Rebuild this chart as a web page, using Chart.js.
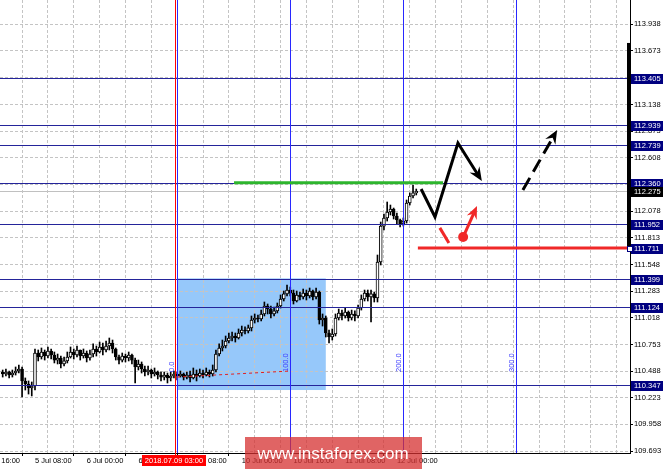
<!DOCTYPE html>
<html>
<head>
<meta charset="utf-8">
<script src="https://cdn.jsdelivr.net/npm/chart.js@4.4.0/dist/chart.umd.min.js"></script>
<style>
html, body { margin: 0; padding: 0; background: #fff; }
</style>
</head>
<body>
<canvas id="grafico" width="665" height="469"></canvas>
<script>
// velas H1 (hora 0 = 5 Jul 08:00)
const firstHour = -10;
const firstOpen = 110.479;
const closes = [
  110.459, 110.479, 110.449, 110.469, 110.489, 110.509, 110.390, 110.360, 110.320, 110.340,
  110.668, 110.628, 110.678, 110.638, 110.688, 110.648, 110.598, 110.618, 110.559, 110.589,
  110.628, 110.678, 110.648, 110.698, 110.638, 110.668, 110.618, 110.658, 110.708, 110.678,
  110.728, 110.698, 110.738, 110.767, 110.708, 110.628, 110.598, 110.638, 110.618, 110.648,
  110.598, 110.529, 110.559, 110.509, 110.479, 110.499, 110.459, 110.479, 110.449, 110.429,
  110.449, 110.420, 110.439, 110.459, 110.439, 110.459, 110.429, 110.449, 110.420, 110.459,
  110.439, 110.469, 110.449, 110.479, 110.459, 110.499, 110.658, 110.718, 110.738, 110.787,
  110.817, 110.837, 110.817, 110.867, 110.897, 110.887, 110.917, 110.996, 111.016, 111.006,
  111.056, 111.135, 111.105, 111.056, 111.086, 111.135, 111.205, 111.255, 111.294, 111.264,
  111.185, 111.245, 111.225, 111.264, 111.235, 111.284, 111.225, 111.274, 110.996, 111.016,
  110.867, 110.827, 110.857, 111.016, 111.066, 111.036, 111.076, 111.016, 111.056, 111.036,
  111.115, 111.205, 111.264, 111.225, 111.255, 111.215, 111.573, 111.930, 112.010, 112.070,
  112.099, 112.030, 111.990, 111.950, 111.980, 112.159, 112.229, 112.259, 112.275
];
const highs = [
  110.499, 110.509, 110.489, 110.499, 110.529, 110.549, 110.529, 110.420, 110.390, 110.380,
  110.708, 110.698, 110.718, 110.698, 110.728, 110.708, 110.678, 110.658, 110.638, 110.628,
  110.678, 110.728, 110.708, 110.738, 110.698, 110.708, 110.688, 110.698, 110.758, 110.738,
  110.777, 110.767, 110.787, 110.817, 110.797, 110.718, 110.648, 110.668, 110.658, 110.678,
  110.658, 110.618, 110.598, 110.579, 110.539, 110.539, 110.509, 110.519, 110.489, 110.479,
  110.479, 110.469, 110.479, 110.489, 110.479, 110.489, 110.469, 110.479, 110.489, 110.519,
  110.499, 110.509, 110.499, 110.519, 110.499, 110.549, 110.698, 110.758, 110.797, 110.837,
  110.867, 110.877, 110.867, 110.907, 110.936, 110.927, 110.946, 111.036, 111.056, 111.046,
  111.095, 111.175, 111.155, 111.135, 111.125, 111.165, 111.245, 111.284, 111.344, 111.324,
  111.294, 111.284, 111.274, 111.304, 111.294, 111.314, 111.294, 111.314, 111.284, 111.056,
  111.036, 110.897, 110.907, 111.056, 111.105, 111.095, 111.115, 111.086, 111.095, 111.086,
  111.145, 111.245, 111.294, 111.294, 111.294, 111.274, 111.642, 111.970, 112.050, 112.169,
  112.139, 112.109, 112.060, 112.000, 112.010, 112.189, 112.259, 112.338, 112.298
];
const lows = [
  110.429, 110.439, 110.420, 110.429, 110.449, 110.469, 110.231, 110.300, 110.260, 110.241,
  110.300, 110.589, 110.608, 110.598, 110.618, 110.608, 110.569, 110.559, 110.519, 110.539,
  110.569, 110.618, 110.608, 110.628, 110.598, 110.618, 110.579, 110.598, 110.628, 110.638,
  110.668, 110.648, 110.678, 110.698, 110.668, 110.598, 110.559, 110.579, 110.579, 110.589,
  110.559, 110.370, 110.499, 110.469, 110.439, 110.449, 110.420, 110.439, 110.410, 110.390,
  110.400, 110.370, 110.390, 110.420, 110.400, 110.429, 110.400, 110.410, 110.380, 110.410,
  110.390, 110.429, 110.420, 110.439, 110.429, 110.439, 110.479, 110.638, 110.688, 110.718,
  110.767, 110.787, 110.777, 110.807, 110.837, 110.857, 110.867, 110.887, 110.966, 110.976,
  110.986, 111.036, 111.056, 111.016, 111.036, 111.066, 111.115, 111.185, 111.235, 111.235,
  111.155, 111.175, 111.195, 111.205, 111.195, 111.215, 111.195, 111.205, 110.956, 110.936,
  110.827, 110.767, 110.797, 110.837, 110.996, 110.996, 111.016, 110.986, 110.996, 110.986,
  111.016, 111.095, 111.185, 111.185, 110.976, 111.175, 111.175, 111.543, 111.891, 111.980,
  112.040, 112.000, 111.950, 111.921, 111.930, 111.960, 112.139, 112.209, 112.239
];

// eixos
const xMin = -10.83, xMax = 184.15;
const yMin = 109.674, yMax = 114.177;
const xTickHours = [-16, -8, 0, 8, 16, 24, 32, 40, 48, 56, 64, 72, 80, 88, 96, 104, 112, 120, 128, 136, 144, 152, 160, 168, 176, 184];
const xLabelHours = [-16, 0, 16, 32, 48, 64, 80, 96, 112];
const xLabelTexts = ['4 Jul 16:00', '5 Jul 08:00', '6 Jul 00:00', '6 Jul 16:00', '9 Jul 08:00', '10 Jul 00:00', '10 Jul 16:00', '11 Jul 08:00', '12 Jul 00:00'];
const yTicks = [109.693, 109.958, 110.223, 110.488, 110.753, 111.018, 111.283, 111.548, 111.813, 112.078, 112.343, 112.608, 112.873, 113.138, 113.405, 113.673, 113.938];

// niveis e objetos
const levelPrices = [113.405, 112.939, 112.739, 112.360, 111.952, 111.399, 111.124, 110.347];
const levelTexts = ['113.405', '112.939', '112.739', '112.360', '111.952', '111.399', '111.124', '110.347'];
const currentPrice = 112.275;
const redLevel = 111.711;
const redLevelStart = 118.5;
const greenHours = [61.6, 126.3];
const greenPrice = 112.360;
const crossHour = 43.3;
const crossText = '2018.07.09 03:00';
const fiboHours = [44, 79, 114, 149];
const fiboTexts = ['0.0', '100.0', '200.0', '300.0'];
const fiboTextPrice = 110.479;
const fiboBaseHours = [44, 79];
const fiboBasePrices = [110.429, 110.489];
const boxHours = [44, 90];
const boxPrices = [111.410, 110.300];
const zigzagHours = [119.5, 123.8, 130.9, 138.3];
const zigzagPrices = [112.298, 112.020, 112.755, 112.378];
const dashHours = [151, 161.6];
const dashPrices = [112.288, 112.885];
const redStrokeHours = [125.3, 128.1];
const redStrokePrices = [111.912, 111.761];
const redArrowHours = [132.5, 136.8];
const redArrowPrices = [111.821, 112.129];
const sideBarPrices = [113.750, 111.711];

const fonte = 'Liberation Sans, Arial, sans-serif';
const horas = closes.map((c, i) => firstHour + i);
const opens = closes.map((c, i) => i === 0 ? firstOpen : closes[i - 1]);

function seta(ctx, x1, y1, x2, y2, tam) {
    const ang = Math.atan2(y2 - y1, x2 - x1);
    ctx.beginPath();
    ctx.moveTo(x2, y2);
    ctx.lineTo(x2 - tam * Math.cos(ang - 0.4), y2 - tam * Math.sin(ang - 0.4));
    ctx.lineTo(x2 - tam * 0.6 * Math.cos(ang), y2 - tam * 0.6 * Math.sin(ang));
    ctx.lineTo(x2 - tam * Math.cos(ang + 0.4), y2 - tam * Math.sin(ang + 0.4));
    ctx.closePath();
    ctx.fill();
}

const desenhos = {
    id: 'desenhos',
    beforeDraw(chart) {
        const { ctx, chartArea: a, scales: { x, y } } = chart;
        ctx.save();
        // retangulo azul
        const rx1 = x.getPixelForValue(boxHours[0]), rx2 = x.getPixelForValue(boxHours[1]);
        const ry1 = y.getPixelForValue(boxPrices[0]), ry2 = y.getPixelForValue(boxPrices[1]);
        ctx.fillStyle = '#96c8fa';
        ctx.fillRect(rx1, ry1, rx2 - rx1, ry2 - ry1);
        // linha do preco atual
        const py = Math.round(y.getPixelForValue(currentPrice)) + 0.5;
        ctx.strokeStyle = '#c0c0c0';
        ctx.lineWidth = 1;
        ctx.beginPath();
        ctx.moveTo(a.left, py);
        ctx.lineTo(a.right, py);
        ctx.stroke();
        ctx.restore();
    },
    afterDatasetsDraw(chart) {
        const { ctx, chartArea: a, scales: { x, y } } = chart;
        ctx.save();
        ctx.lineWidth = 1;

        // linhas horizontais azuis
        ctx.strokeStyle = '#24249a';
        levelPrices.forEach(p => {
            const py = Math.round(y.getPixelForValue(p)) + 0.5;
            ctx.beginPath();
            ctx.moveTo(a.left, py);
            ctx.lineTo(a.right, py);
            ctx.stroke();
        });

        // fibo time zones
        ctx.strokeStyle = '#2828ff';
        fiboHours.forEach(h => {
            const px = Math.round(x.getPixelForValue(h)) + 0.5;
            ctx.beginPath();
            ctx.moveTo(px, a.top);
            ctx.lineTo(px, a.bottom);
            ctx.stroke();
        });
        ctx.fillStyle = '#3c3cff';
        ctx.font = '7.5px ' + fonte;
        ctx.textAlign = 'left';
        ctx.textBaseline = 'bottom';
        fiboHours.forEach((h, i) => {
            ctx.save();
            ctx.translate(x.getPixelForValue(h) - 1, y.getPixelForValue(fiboTextPrice));
            ctx.rotate(-Math.PI / 2);
            ctx.fillText(fiboTexts[i], 0, 0);
            ctx.restore();
        });
        ctx.strokeStyle = '#e02020';
        ctx.setLineDash([3, 3]);
        ctx.beginPath();
        ctx.moveTo(x.getPixelForValue(fiboBaseHours[0]), y.getPixelForValue(fiboBasePrices[0]));
        ctx.lineTo(x.getPixelForValue(fiboBaseHours[1]), y.getPixelForValue(fiboBasePrices[1]));
        ctx.stroke();
        ctx.setLineDash([]);

        // linha vermelha vertical (cursor)
        const cx = Math.round(x.getPixelForValue(crossHour)) + 0.5;
        ctx.strokeStyle = '#ff0000';
        ctx.beginPath();
        ctx.moveTo(cx, a.top);
        ctx.lineTo(cx, a.bottom + 3);
        ctx.stroke();

        // linha verde
        ctx.strokeStyle = '#2db52d';
        ctx.lineWidth = 3;
        const gy = y.getPixelForValue(greenPrice);
        ctx.beginPath();
        ctx.moveTo(x.getPixelForValue(greenHours[0]), gy);
        ctx.lineTo(x.getPixelForValue(greenHours[1]), gy);
        ctx.stroke();

        // linha vermelha horizontal
        ctx.strokeStyle = '#f02828';
        const ry = y.getPixelForValue(redLevel);
        ctx.beginPath();
        ctx.moveTo(x.getPixelForValue(redLevelStart), ry);
        ctx.lineTo(a.right, ry);
        ctx.stroke();

        // zigue-zague preto
        ctx.strokeStyle = '#000';
        ctx.fillStyle = '#000';
        ctx.lineWidth = 3;
        ctx.lineJoin = 'miter';
        const zx = zigzagHours.map(h => x.getPixelForValue(h));
        const zy = zigzagPrices.map(p => y.getPixelForValue(p));
        ctx.beginPath();
        ctx.moveTo(zx[0], zy[0]);
        for (let i = 1; i < zx.length - 1; i++) ctx.lineTo(zx[i], zy[i]);
        const n = zx.length - 1;
        const ang = Math.atan2(zy[n] - zy[n - 1], zx[n] - zx[n - 1]);
        ctx.lineTo(zx[n] - 8 * Math.cos(ang), zy[n] - 8 * Math.sin(ang));
        ctx.stroke();
        seta(ctx, zx[n - 1], zy[n - 1], zx[n], zy[n], 15);

        // seta tracejada
        const dx1 = x.getPixelForValue(dashHours[0]), dy1 = y.getPixelForValue(dashPrices[0]);
        const dx2 = x.getPixelForValue(dashHours[1]), dy2 = y.getPixelForValue(dashPrices[1]);
        const dAng = Math.atan2(dy2 - dy1, dx2 - dx1);
        ctx.setLineDash([14, 7]);
        ctx.beginPath();
        ctx.moveTo(dx1, dy1);
        ctx.lineTo(dx2 - 8 * Math.cos(dAng), dy2 - 8 * Math.sin(dAng));
        ctx.stroke();
        ctx.setLineDash([]);
        seta(ctx, dx1, dy1, dx2, dy2, 15);

        // marcas vermelhas
        ctx.strokeStyle = '#f02828';
        ctx.fillStyle = '#f02828';
        ctx.beginPath();
        ctx.moveTo(x.getPixelForValue(redStrokeHours[0]), y.getPixelForValue(redStrokePrices[0]));
        ctx.lineTo(x.getPixelForValue(redStrokeHours[1]), y.getPixelForValue(redStrokePrices[1]));
        ctx.stroke();
        const ax1 = x.getPixelForValue(redArrowHours[0]), ay1 = y.getPixelForValue(redArrowPrices[0]);
        const ax2 = x.getPixelForValue(redArrowHours[1]), ay2 = y.getPixelForValue(redArrowPrices[1]);
        const rAng = Math.atan2(ay2 - ay1, ax2 - ax1);
        ctx.beginPath();
        ctx.arc(ax1, ay1, 5, 0, Math.PI * 2);
        ctx.fill();
        ctx.beginPath();
        ctx.moveTo(ax1, ay1);
        ctx.lineTo(ax2 - 8 * Math.cos(rAng), ay2 - 8 * Math.sin(rAng));
        ctx.stroke();
        seta(ctx, ax1, ay1, ax2, ay2, 14);

        ctx.restore();
    },
    afterDraw(chart) {
        const { ctx, chartArea: a, scales: { x, y } } = chart;
        ctx.save();
        ctx.font = '7.5px ' + fonte;
        ctx.textBaseline = 'middle';
        ctx.textAlign = 'left';

        // barra preta lateral
        const sy1 = y.getPixelForValue(sideBarPrices[0]), sy2 = y.getPixelForValue(sideBarPrices[1]);
        ctx.fillStyle = '#000';
        ctx.fillRect(a.right - 3, sy1, 3, sy2 - sy1);

        // caixas dos niveis no eixo
        levelPrices.forEach((p, i) => {
            const py = Math.round(y.getPixelForValue(p));
            ctx.fillStyle = '#000080';
            ctx.fillRect(a.right + 1, py - 4, 32, 10);
            ctx.fillStyle = '#fff';
            ctx.fillText(levelTexts[i], a.right + 4, py + 1);
        });
        const cy = Math.round(y.getPixelForValue(currentPrice));
        ctx.fillStyle = '#000';
        ctx.fillRect(a.right + 1, cy - 4, 32, 10);
        ctx.fillStyle = '#fff';
        ctx.fillText(currentPrice.toFixed(3), a.right + 4, cy + 1);
        const ry = Math.round(y.getPixelForValue(redLevel));
        ctx.fillStyle = '#000080';
        ctx.fillRect(a.right + 1, ry - 4, 32, 10);
        ctx.fillStyle = '#fff';
        ctx.fillText(redLevel.toFixed(3), a.right + 4, ry + 1);
        ctx.fillStyle = '#fff';
        ctx.fillRect(a.right - 3, ry - 2, 5, 5);
        ctx.strokeStyle = '#000080';
        ctx.lineWidth = 1;
        ctx.strokeRect(a.right - 2.5, ry - 1.5, 5, 5);

        // rotulo vermelho do cursor
        const cx = Math.round(x.getPixelForValue(crossHour));
        ctx.fillStyle = '#ff0000';
        ctx.fillRect(cx - 33, a.bottom + 2, 64, 11);
        ctx.fillStyle = '#fff';
        ctx.textAlign = 'center';
        ctx.fillText(crossText, cx - 1, a.bottom + 8);

        // marca d'agua
        ctx.fillStyle = 'rgba(214, 48, 48, 0.75)';
        ctx.fillRect(245, 437, 177, 32);
        ctx.fillStyle = '#fff';
        ctx.font = '17px ' + fonte;
        ctx.textAlign = 'center';
        ctx.fillText('www.instaforex.com', 333, 454);
        ctx.restore();
    }
};

new Chart(document.getElementById('grafico'), {
    type: 'bar',
    data: {
        datasets: [
            {
                data: horas.map((h, i) => ({ x: h, y: [lows[i], highs[i]] })),
                backgroundColor: '#000',
                barThickness: 1,
                grouped: false,
                order: 2
            },
            {
                data: horas.map((h, i) => ({ x: h, y: [opens[i], closes[i]] })),
                backgroundColor: ctx => closes[ctx.dataIndex] >= opens[ctx.dataIndex] ? '#fff' : '#000',
                borderColor: '#000',
                borderWidth: 1,
                borderSkipped: false,
                barThickness: 3,
                minBarLength: 1,
                grouped: false,
                order: 1
            }
        ]
    },
    options: {
        responsive: false,
        animation: false,
        devicePixelRatio: 1,
        layout: { padding: 0 },
        plugins: { legend: { display: false }, tooltip: { enabled: false } },
        scales: {
            x: {
                type: 'linear',
                min: xMin,
                max: xMax,
                offset: false,
                afterBuildTicks: s => { s.ticks = xTickHours.map(v => ({ value: v })); },
                afterFit: s => { s.height = 16; s.paddingLeft = 0; s.paddingRight = 0; },
                ticks: {
                    autoSkip: false,
                    maxRotation: 0,
                    align: 'start',
                    padding: 0,
                    color: '#000',
                    font: { family: fonte, size: 7.5 },
                    callback: v => {
                        const i = xLabelHours.indexOf(v);
                        return i >= 0 ? xLabelTexts[i] : '';
                    }
                },
                grid: {
                    color: '#c4c4c4',
                    tickLength: 3,
                    tickBorderDash: [],
                    tickColor: c => (c.tick && xLabelHours.indexOf(c.tick.value) >= 0) ? '#000' : 'rgba(0,0,0,0)'
                },
                border: { color: '#000', width: 1, dash: [3, 2] }
            },
            y: {
                position: 'right',
                min: yMin,
                max: yMax,
                afterBuildTicks: s => { s.ticks = yTicks.map(v => ({ value: v })); },
                afterFit: s => { s.width = 35; s.paddingTop = 0; s.paddingBottom = 0; },
                ticks: {
                    padding: 1,
                    color: '#000',
                    font: { family: fonte, size: 7.5 },
                    callback: v => v.toFixed(3)
                },
                grid: {
                    color: '#c4c4c4',
                    tickLength: 3,
                    tickBorderDash: [],
                    tickColor: '#000'
                },
                border: { color: '#000', width: 1, dash: [3, 2] }
            }
        }
    },
    plugins: [desenhos]
});
</script>
</body>
</html>
